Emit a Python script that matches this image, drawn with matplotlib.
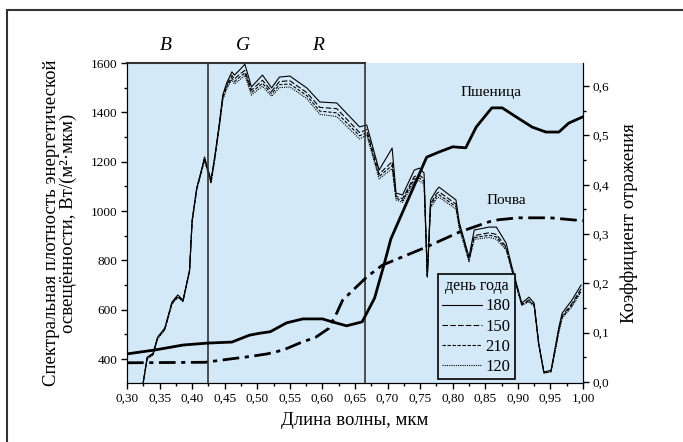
import matplotlib
matplotlib.use("Agg")
import matplotlib.pyplot as plt
from matplotlib.lines import Line2D
from matplotlib.patches import Rectangle
from matplotlib.ticker import MultipleLocator, FuncFormatter

plt.rcParams["font.family"] = ["Liberation Serif", "DejaVu Serif"]

# wavelength grid of the irradiance curves, mkm
wl = [0.324, 0.331, 0.340, 0.347, 0.358, 0.369, 0.378, 0.386, 0.396, 0.400,
      0.407, 0.415, 0.419, 0.4225, 0.429, 0.435, 0.442, 0.447, 0.453, 0.461,
      0.465, 0.473, 0.481, 0.491, 0.508, 0.522, 0.534, 0.550, 0.576, 0.596,
      0.622, 0.657, 0.668, 0.687, 0.707, 0.713, 0.723, 0.741, 0.749, 0.756,
      0.761, 0.766, 0.775, 0.779, 0.805, 0.810, 0.825, 0.833, 0.856, 0.867,
      0.882, 0.891, 0.906, 0.917, 0.925, 0.932, 0.940, 0.951, 0.963, 0.968,
      0.983, 0.997]
day180 = [290, 408, 424, 489, 526, 631, 660, 639, 761, 964,
          1093, 1174, 1219, 1186, 1126, 1227, 1361, 1470, 1519, 1564,
          1551, 1572, 1595, 1503, 1551, 1499, 1543, 1547, 1499, 1442,
          1438, 1341, 1349, 1166, 1255, 1073, 1065, 1166, 1174, 1154,
          732, 1045, 1085, 1097, 1045, 955, 814, 923, 935, 935,
          870, 773, 627, 651, 627, 465, 347, 355, 530, 586,
          639, 700]
day150 = [290, 405, 420, 486, 522, 628, 655, 636, 758, 960,
          1090, 1170, 1212, 1180, 1120, 1222, 1355, 1462, 1510, 1550,
          1535, 1555, 1570, 1490, 1530, 1485, 1525, 1528, 1480, 1420,
          1415, 1318, 1330, 1150, 1200, 1060, 1050, 1140, 1145, 1130,
          735, 1030, 1070, 1078, 1028, 945, 805, 900, 912, 905,
          855, 765, 622, 640, 620, 462, 345, 352, 520, 575,
          625, 685]
day210 = [290, 403, 418, 484, 520, 625, 652, 634, 756, 958,
          1088, 1168, 1208, 1176, 1116, 1218, 1350, 1456, 1503, 1540,
          1525, 1543, 1560, 1480, 1518, 1475, 1512, 1515, 1468, 1405,
          1398, 1305, 1318, 1140, 1185, 1052, 1042, 1130, 1133, 1120,
          738, 1020, 1060, 1066, 1018, 938, 800, 892, 902, 895,
          848, 760, 620, 636, 617, 460, 344, 350, 515, 570,
          618, 678]
day120 = [290, 401, 416, 482, 518, 622, 650, 632, 754, 955,
          1085, 1165, 1204, 1172, 1112, 1214, 1345, 1450, 1496, 1532,
          1515, 1532, 1550, 1470, 1506, 1465, 1500, 1503, 1456, 1392,
          1383, 1292, 1308, 1130, 1172, 1045, 1035, 1120, 1122, 1110,
          740, 1012, 1050, 1056, 1008, 930, 795, 885, 893, 886,
          842, 755, 618, 632, 614, 458, 343, 348, 510, 565,
          612, 672]

# reflectance of wheat (right axis)
wheat_wl = [0.30, 0.343, 0.386, 0.424, 0.461, 0.488, 0.504, 0.52, 0.545, 0.57,
            0.60, 0.615, 0.637, 0.661, 0.68, 0.695, 0.705, 0.76, 0.78, 0.80,
            0.82, 0.836, 0.86, 0.876, 0.897, 0.922, 0.943, 0.963, 0.978, 1.0]
wheat = [0.057, 0.065, 0.075, 0.079, 0.081, 0.095, 0.099, 0.102, 0.12, 0.128,
         0.128, 0.122, 0.114, 0.122, 0.17, 0.24, 0.29, 0.456, 0.467, 0.477,
         0.475, 0.517, 0.556, 0.556, 0.538, 0.517, 0.507, 0.507, 0.525, 0.538]

# reflectance of soil (right axis)
soil_wl = [0.30, 0.42, 0.46, 0.49, 0.515, 0.54, 0.565, 0.59, 0.61, 0.622,
           0.631, 0.668, 0.692, 0.76, 0.81, 0.856, 0.87, 0.90, 0.95, 1.0]
soil = [0.039, 0.040, 0.047, 0.052, 0.057, 0.065, 0.079, 0.091, 0.109, 0.14,
        0.166, 0.213, 0.237, 0.274, 0.304, 0.325, 0.329, 0.333, 0.333, 0.327]

days = ["180", "150", "210", "120"]
bands = ["B", "G", "R"]
band_x = [0.36, 0.478, 0.594]
band_edges = [0.424, 0.666]

BG = "#d4e9f8"

fig = plt.figure(figsize=(6.83, 4.42), dpi=100)
fig.patches.append(Rectangle((7 / 683, -0.1), 1.2, 1 - 10 / 442 + 0.1, transform=fig.transFigure,
                             fill=False, ec="#333333", lw=1.5))
ax = fig.add_axes([127 / 683, 1 - 383 / 442, 456 / 683, 320 / 442])
ax.set_facecolor(BG)
ax2 = ax.twinx()

styles = ["-", (0, (5, 2)), (0, (3, 1.5)), (0, (1, 1))]
for vals, ls in zip([day180, day150, day210, day120], styles):
    ax.plot(wl, vals, color="black", lw=0.8, ls=ls)

ax2.plot(wheat_wl, wheat, color="black", lw=2)
ax2.plot(soil_wl, soil, color="black", lw=2, ls=(0, (6, 2, 1.5, 2)))

ax.set_xlim(0.3, 1.0)
ax.set_ylim(303, 1600)
ax2.set_ylim(-0.002, 0.647)

for x in band_edges:
    ax.axvline(x, color="#333333", lw=1.2)
ax.plot([0.3, band_edges[1]], [1600, 1600], color="#333333", lw=1.5, clip_on=False)
ax.spines["top"].set_visible(False)
ax2.spines["top"].set_visible(False)

ax.xaxis.set_major_locator(MultipleLocator(0.05))
ax.xaxis.set_minor_locator(MultipleLocator(0.025))
ax.yaxis.set_major_locator(MultipleLocator(200))
ax.yaxis.set_minor_locator(MultipleLocator(100))
ax2.yaxis.set_major_locator(MultipleLocator(0.1))
ax2.yaxis.set_minor_locator(MultipleLocator(0.05))
ax.xaxis.set_major_formatter(FuncFormatter(lambda v, p: f"{v:.2f}".replace(".", ",")))
ax2.yaxis.set_major_formatter(FuncFormatter(lambda v, p: f"{v:.1f}".replace(".", ",")))
for a in (ax, ax2):
    a.tick_params(which="major", direction="out", length=4, width=1, labelsize=9.5, pad=3)
    a.tick_params(which="minor", direction="out", length=2, width=1)

ax.set_xlabel("Длина волны, мкм", fontsize=13.5, labelpad=5)
ax.set_ylabel("Спектральная плотность энергетической\nосвещённости, Вт/(м²·мкм)", fontsize=13.5,
              labelpad=10, linespacing=0.95)
ax2.set_ylabel("Коэффициент отражения", fontsize=13.5, labelpad=8)

for name, x in zip(bands, band_x):
    ax.text(x, 1.055, name, transform=ax.get_xaxis_transform(), ha="center", va="center",
            fontsize=14, style="italic")

ax2.text(0.859, 0.588, "Пшеница", ha="center", va="center", fontsize=11)
ax2.text(0.883, 0.369, "Почва", ha="center", va="center", fontsize=11)

handles = [Line2D([], [], color="black", lw=0.8, ls=ls) for ls in styles]
leg = ax.legend(handles, days, title="день года", loc="lower left", bbox_to_anchor=(0.682, 0.012),
                fontsize=12, title_fontsize=11.5, facecolor=BG, edgecolor="black", framealpha=1,
                fancybox=False, handlelength=2.4, handletextpad=0.2, borderpad=0.25,
                labelspacing=0.25, borderaxespad=0)
leg.get_frame().set_linewidth(1.2)
ax2.set_zorder(ax.zorder + 1)
ax2.patch.set_visible(False)

fig.savefig("out.png", dpi=100)
